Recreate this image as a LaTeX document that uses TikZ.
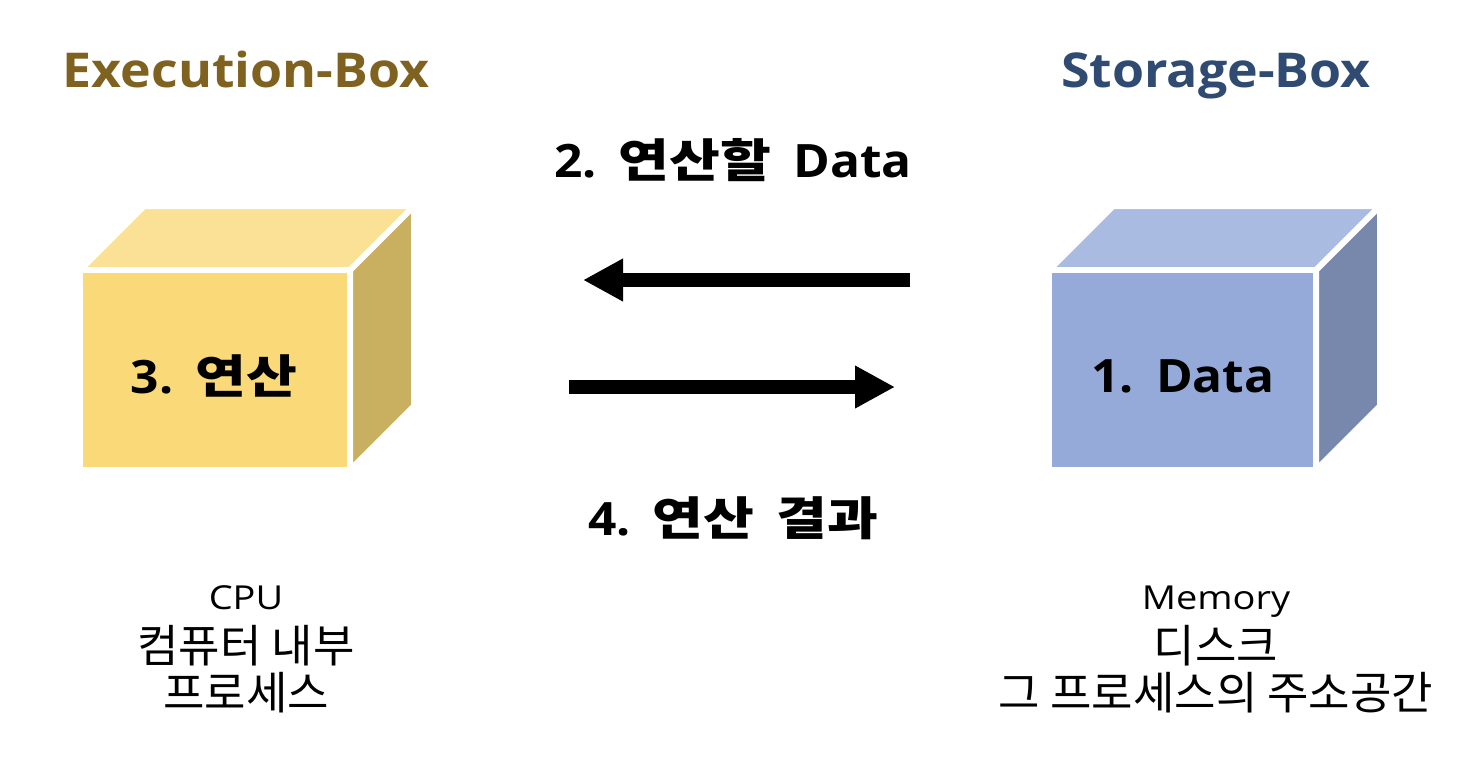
\documentclass[tikz,border=0pt]{standalone}
\usepackage{fontspec}
\setmainfont{Open Sans}
\newfontfamily\latbfont{Open Sans}[FakeStretch=1.08]
\newfontfamily\descfont{Open Sans}[FakeStretch=1.15]
\newfontfamily\krfont{Noto Sans CJK KR}
\newfontfamily\krbfont{Noto Sans CJK KR}[FakeStretch=1.2]
\newcommand\hgb[1]{{\krbfont\bfseries #1}}
\newcommand\wsp{\hspace{22pt}}
\usetikzlibrary{arrows.meta}
\definecolor{yfront}{HTML}{F9D978}
\definecolor{ytop}{HTML}{FAE196}
\definecolor{yside}{HTML}{C8B060}
\definecolor{bfront}{HTML}{95AAD8}
\definecolor{btop}{HTML}{A9BBE0}
\definecolor{bside}{HTML}{7888AD}
\definecolor{exectitle}{HTML}{7F6120}
\definecolor{stortitle}{HTML}{2F4B72}
\tikzset{
  face/.style={draw=white, line width=6pt, line join=miter},
  frontface/.style={face, minimum width=270pt, minimum height=200pt, outer sep=0pt, inner sep=0pt},
  boxtitle/.style={font=\fontsize{48}{58}\selectfont\latbfont\bfseries, anchor=base},
  boldlabel/.style={font=\fontsize{46}{56}\selectfont\latbfont\bfseries, anchor=base, inner sep=0pt},
  desc/.style={font=\fontsize{33}{40}\selectfont\descfont, anchor=base, inner sep=0pt},
  desckr/.style={font=\fontsize{45}{54}\selectfont\krfont, anchor=base, inner sep=0pt},
  bigarrow/.style={line width=14pt, -{Triangle[length=40pt,width=40pt]}},
}
\begin{document}
\begin{tikzpicture}[x=1pt,y=-1pt]
\useasboundingbox[fill=white] (0,0) rectangle (1480,772);

% Execution box
\fill[ytop, face] (80,270) -- ++(64,-64) -- ++(270,0) -- (350,270) -- cycle;
\fill[yside, face] (350,270) -- ++(64,-64) -- ++(0,200) -- (350,470) -- cycle;
\node[frontface, fill=yfront] (exec) at (215,370) {};
\node[boldlabel] (exectext) at (214,393) {3.\wsp\hgb{연산}};

% Storage box
\fill[btop, face] (1049,270) -- ++(64,-64) -- ++(267,0) -- (1316,270) -- cycle;
\fill[bside, face] (1316,270) -- ++(64,-64) -- ++(0,200) -- (1316,470) -- cycle;
\node[frontface, fill=bfront, minimum width=267pt] (stor) at (1182.5,370) {};
\node[boldlabel] (stortext) at (1183,392) {1.\wsp Data};

% titles
\node[boxtitle, text=exectitle] (exectitle) at (246,87) {Execution-Box};
\node[boxtitle, text=stortitle] (stortitle) at (1216,87) {Storage-Box};

% arrows
\coordinate (a1s) at (910,280);
\coordinate (a1e) at (583,280);
\coordinate (a2s) at (569,387);
\coordinate (a2e) at (895,387);
\draw[bigarrow] (a1s) -- (a1e);
\draw[bigarrow] (a2s) -- (a2e);

\node[boldlabel] (lbl2) at (733,177) {2.\wsp\hgb{연산할}\wsp Data};
\node[boldlabel] (lbl4) at (733,535) {4.\wsp\hgb{연산}\wsp\hgb{결과}};

% descriptions
\node[desc] (cpu1) at (246,609) {CPU};
\node[desckr] (cpu2) at (246,662) {컴퓨터 내부};
\node[desckr] (cpu3) at (246,709) {프로세스};
\node[desc] (mem1) at (1216,609) {Memory};
\node[desckr] (mem2) at (1216,662) {디스크};
\node[desckr] (mem3) at (1216,709) {그 프로세스의 주소공간};
\end{tikzpicture}
\end{document}
